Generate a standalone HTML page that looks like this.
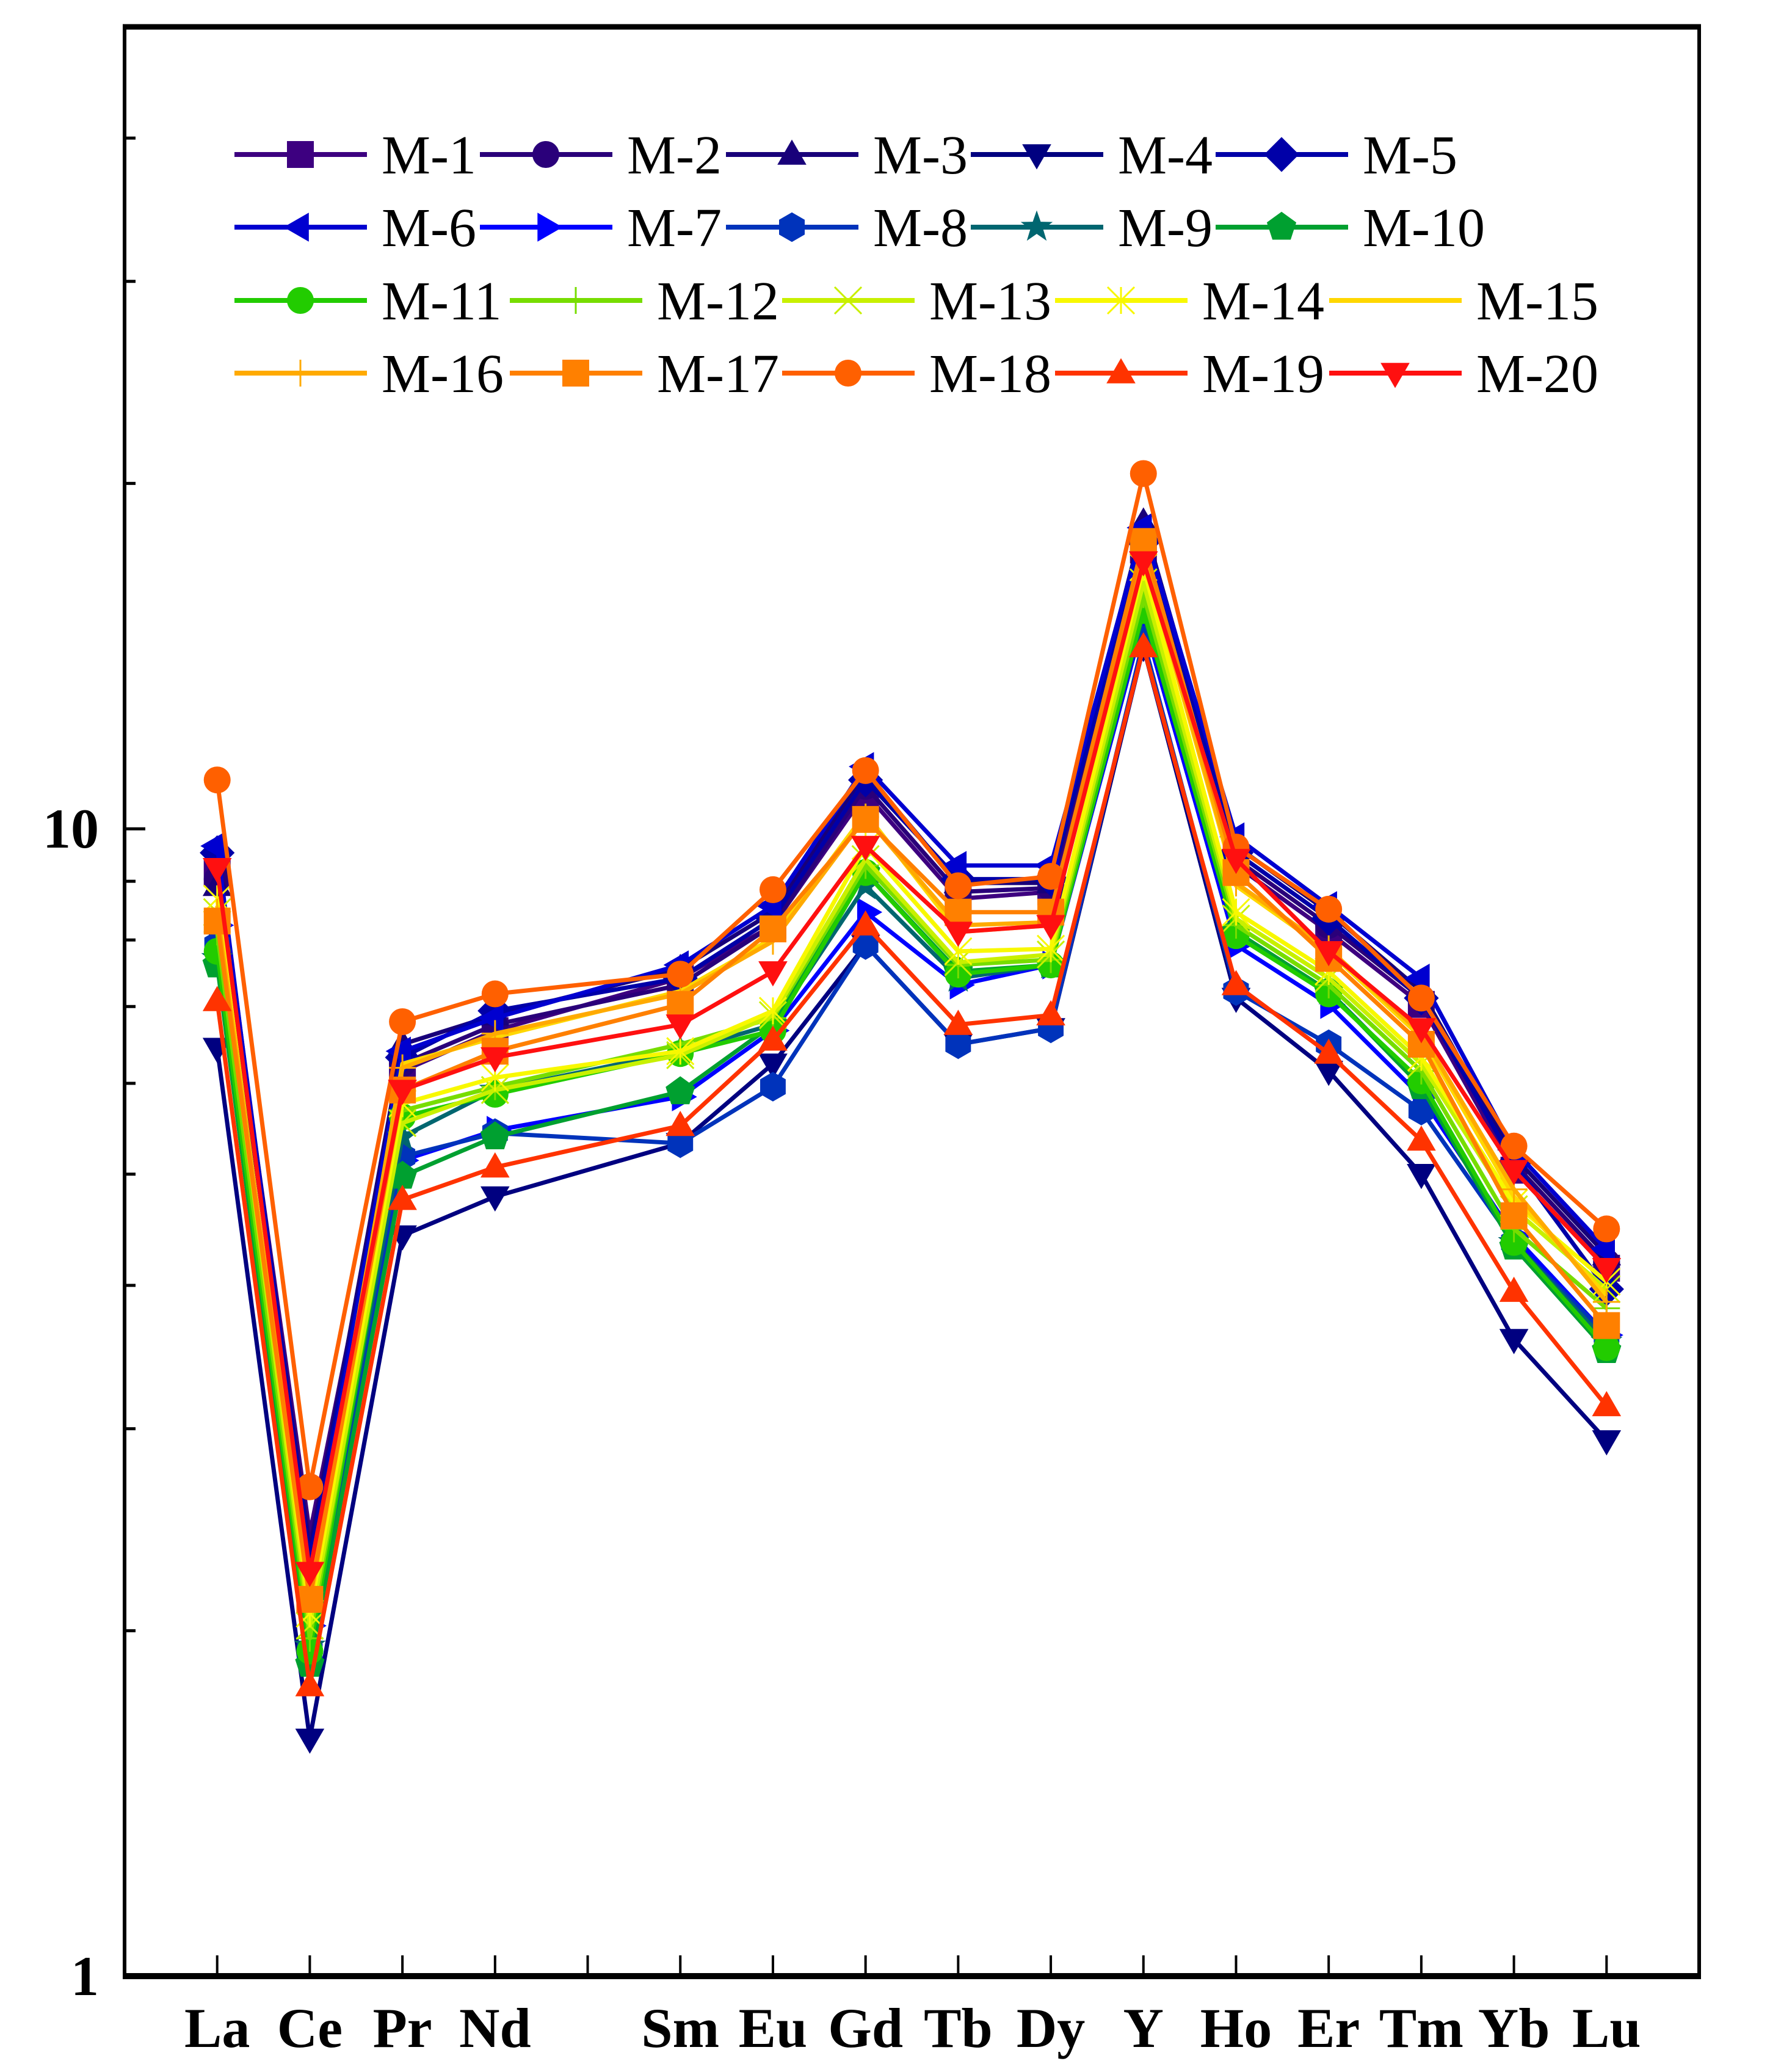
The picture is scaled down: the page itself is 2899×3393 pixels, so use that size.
<!DOCTYPE html>
<html><head><meta charset="utf-8"><style>
html,body{margin:0;padding:0;background:#fff;}
svg{display:block;}
</style></head><body>
<svg id="chart" width="2899" height="3393" viewBox="0 0 2899 3393" xmlns="http://www.w3.org/2000/svg">
<rect x="0" y="0" width="2899" height="3393" fill="#fff"/>
<g id="series-layer"></g>
<g id="axis-layer"></g>
<g id="legend-layer"></g>
</svg>
<script>
const categories = ["La","Ce","Pr","Nd","Sm","Eu","Gd","Tb","Dy","Y","Ho","Er","Tm","Yb","Lu"];
const catPositions = [0,1,2,3,5,6,7,8,9,10,11,12,13,14,15];
const seriesNames = ["M-1","M-2","M-3","M-4","M-5","M-6","M-7","M-8","M-9","M-10","M-11","M-12","M-13","M-14","M-15","M-16","M-17","M-18","M-19","M-20"];
const m1 = [9.16,2.43,6.15,6.67,7.41,8.24,10.74,8.69,8.81,17.5,9.29,8.13,7.03,5.04,4.14];
const m2 = [9.04,2.37,6.24,6.75,7.31,8.24,10.89,8.81,8.88,18.0,9.41,8.24,7.12,5.11,4.19];
const m3 = [8.92,2.34,6.49,6.88,7.55,8.46,11.2,8.97,8.97,18.5,9.66,8.46,7.22,5.18,4.25];
const m4 = [6.44,1.61,4.42,4.78,5.32,6.24,7.92,6.49,6.70,14.4,7.12,6.15,5.00,3.59,2.93];
const m5 = [9.53,2.31,6.32,6.94,7.41,8.35,11.03,9.04,9.04,17.8,9.53,8.35,7.12,5.11,3.97];
const m6 = [9.66,2.22,6.40,6.84,7.61,8.57,11.33,9.29,9.29,18.3,9.84,8.57,7.41,5.25,4.30];
const m7 = [8.24,2.02,5.14,5.46,5.84,6.67,8.46,7.31,7.61,15.2,7.92,7.03,5.84,4.42,3.62];
const m8 = [7.92,1.92,5.18,5.43,5.32,5.96,7.92,6.49,6.70,14.6,7.22,6.49,5.68,4.36,3.62];
const m9 = [7.71,1.94,5.39,5.92,6.40,6.75,8.92,7.41,7.61,15.4,8.13,7.22,5.99,4.36,3.57];
const m10 = [7.61,1.87,4.98,5.39,5.90,6.75,9.16,7.51,7.61,15.6,8.13,7.22,5.96,4.32,3.51];
const m11 = [7.82,1.92,5.61,5.87,6.37,6.67,9.16,7.47,7.61,15.5,8.07,7.18,6.03,4.36,3.53];
const m12 = [8.13,1.97,5.68,5.96,6.49,6.84,9.29,7.61,7.69,16.0,8.24,7.31,6.15,4.48,3.82];
const m13 = [8.46,2.02,5.54,5.92,6.35,6.88,9.41,7.65,7.77,16.4,8.35,7.41,6.24,4.66,3.97];
const m14 = [8.69,2.07,5.76,6.07,6.40,6.94,9.66,7.82,7.86,16.9,8.46,7.51,6.32,4.72,4.03];
const m15 = [8.57,2.10,6.24,6.58,7.22,8.03,10.32,8.13,8.24,17.3,8.92,7.82,6.58,4.78,3.92];
const m16 = [8.46,2.16,6.19,6.63,7.18,7.98,10.24,8.24,8.29,17.4,8.97,7.86,6.63,4.85,3.87];
const m17 = [8.31,2.13,5.92,6.40,7.03,8.18,10.19,8.46,8.46,17.8,9.16,7.71,6.49,4.60,3.69];
const m18 = [11.03,2.67,6.79,7.18,7.47,8.85,11.24,8.92,9.09,20.4,9.64,8.51,7.12,5.29,4.48];
const m19 = [7.08,1.79,4.75,5.07,5.51,6.54,8.24,6.75,6.88,14.4,7.31,6.37,5.35,3.95,3.14];
const m20 = [9.24,2.25,5.92,6.32,6.75,7.51,9.66,8.13,8.24,17.1,9.41,7.82,6.70,5.04,4.14];
const seriesValues = [m1,m2,m3,m4,m5,m6,m7,m8,m9,m10,m11,m12,m13,m14,m15,m16,m17,m18,m19,m20];
const yTickLabels = ["1","10"];
const yTickValues = [1,10];

const colors = ["#3d0080","#2a007a","#18007a","#000080","#0000a8","#0000d0","#0000ff","#0033bb","#006670","#00a030","#22cc00","#77dd00","#c8f000","#f8f800","#ffd700","#ffaa00","#ff8000","#ff6000","#ff3300","#ff1010"];
const markers = ["square","circle","tri-up","tri-down","diamond","tri-left","tri-right","hexagon","star","pentagon","circle","plus","cross","asterisk","none","plus","square","circle","tri-up","tri-down"];

const NS = "http://www.w3.org/2000/svg";
const L = 204, R = 2783, T = 44, B = 3236;
const xMin = -1, xMax = 16, yMin = 0, yMax = Math.log10(50);
function xScale(p){ return L + (p - xMin) / (xMax - xMin) * (R - L); }
function yScale(v){ return B - (Math.log10(v) - yMin) / (yMax - yMin) * (B - T); }
function mk(tag, attrs, parent){ const e = document.createElementNS(NS, tag); for (const k in attrs) e.setAttribute(k, attrs[k]); parent.appendChild(e); return e; }

function polyPts(cx, cy, r, n, rot){ const p=[]; for(let i=0;i<n;i++){ const a=rot+i*2*Math.PI/n; p.push((cx+r*Math.cos(a)).toFixed(1)+","+(cy+r*Math.sin(a)).toFixed(1)); } return p.join(" "); }
function drawMarker(g, type, cx, cy, color){
  const r = 22; let e = null;
  if (type === "square") e = mk("rect",{x:cx-r,y:cy-r,width:2*r,height:2*r,fill:color},g);
  else if (type === "circle") e = mk("circle",{cx:cx,cy:cy,r:r,fill:color},g);
  else if (type === "tri-up") e = mk("polygon",{points:polyPts(cx,cy+3,r*1.25,3,-Math.PI/2),fill:color},g);
  else if (type === "tri-down") e = mk("polygon",{points:polyPts(cx,cy-3,r*1.25,3,Math.PI/2),fill:color},g);
  else if (type === "tri-left") e = mk("polygon",{points:polyPts(cx,cy,r*1.25,3,Math.PI),fill:color},g);
  else if (type === "tri-right") e = mk("polygon",{points:polyPts(cx,cy,r*1.25,3,0),fill:color},g);
  else if (type === "diamond") e = mk("polygon",{points:polyPts(cx,cy,r*1.3,4,-Math.PI/2),fill:color},g);
  else if (type === "hexagon") e = mk("polygon",{points:polyPts(cx,cy,r*1.1,6,Math.PI/2),fill:color},g);
  else if (type === "pentagon") e = mk("polygon",{points:polyPts(cx,cy,r*1.15,5,-Math.PI/2),fill:color},g);
  else if (type === "star") { const p=[]; for(let i=0;i<10;i++){ const a=-Math.PI/2+i*Math.PI/5; const rr=i%2?r*0.5:r*1.25; p.push((cx+rr*Math.cos(a)).toFixed(1)+","+(cy+rr*Math.sin(a)).toFixed(1)); } e = mk("polygon",{points:p.join(" "),fill:color},g); }
  else if (type === "plus") e = mk("path",{d:`M${cx-r} ${cy}H${cx+r}M${cx} ${cy-r}V${cy+r}`,stroke:color,"stroke-width":3,fill:"none"},g);
  else if (type === "cross") e = mk("path",{d:`M${cx-r} ${cy-r}L${cx+r} ${cy+r}M${cx-r} ${cy+r}L${cx+r} ${cy-r}`,stroke:color,"stroke-width":3,fill:"none"},g);
  else if (type === "asterisk") e = mk("path",{d:`M${cx-r} ${cy-r}L${cx+r} ${cy+r}M${cx-r} ${cy+r}L${cx+r} ${cy-r}M${cx} ${cy-r}V${cy+r}`,stroke:color,"stroke-width":3,fill:"none"},g);
  return e;
}

const sLayer = document.getElementById("series-layer");
seriesValues.forEach((vals, si) => {
  const g = mk("g", {}, sLayer);
  
  
  const pts = vals.map((v, i) => xScale(catPositions[i]).toFixed(1) + "," + yScale(v).toFixed(1)).join(" ");
  const line = mk("polyline", {points: pts, fill: "none", stroke: colors[si], "stroke-width": 7, "stroke-linejoin": "round"}, g);
  
  
  vals.forEach((v, i) => {
    const m = drawMarker(g, markers[si], xScale(catPositions[i]), yScale(v), colors[si]);
    if (m) {
      
      
    }
  });
});

const aLayer = document.getElementById("axis-layer");
const frameL = mk("line",{x1:L,y1:T-4,x2:L,y2:B+5,stroke:"#000","stroke-width":6},aLayer);
 
const frameR = mk("line",{x1:R,y1:T-4,x2:R,y2:B+5,stroke:"#000","stroke-width":6},aLayer);
 
const frameT = mk("line",{x1:L-3,y1:T,x2:R+3,y2:T,stroke:"#000","stroke-width":9},aLayer);
 
const frameB = mk("line",{x1:L-3,y1:B,x2:R+3,y2:B,stroke:"#000","stroke-width":10},aLayer);
 

for (let p = 0; p <= 15; p++) {
  const t = mk("line",{x1:xScale(p),y1:B,x2:xScale(p),y2:B-34,stroke:"#000","stroke-width":4},aLayer);
   
}
categories.forEach((c, i) => {
  const t = mk("text",{x:xScale(catPositions[i]),y:3352,"text-anchor":"middle","font-family":"'Liberation Serif', serif","font-weight":"bold","font-size":92},aLayer);
  t.textContent = c;
   
});
[2,3,4,5,6,7,8,9,20,30,40].forEach(v => {
  const t = mk("line",{x1:L,y1:yScale(v),x2:L+18,y2:yScale(v),stroke:"#000","stroke-width":5},aLayer);
   
});
yTickValues.forEach((v, i) => {
  const t = mk("line",{x1:L,y1:yScale(v),x2:L+34,y2:yScale(v),stroke:"#000","stroke-width":5},aLayer);
   
  const lb = mk("text",{x:162,y:yScale(v)+31,"text-anchor":"end","font-family":"'Liberation Serif', serif","font-weight":"bold","font-size":92},aLayer);
  lb.textContent = yTickLabels[i];
   
});

const lg = document.getElementById("legend-layer");
const rowY = [253,372,492,611];
const colX12 = [384,786,1189,1590,1991];
const colX34 = [384,835,1281,1728,2177];
seriesNames.forEach((n, si) => {
  const row = Math.floor(si / 5), col = si % 5;
  const x0 = row < 2 ? colX12[col] : colX34[col];
  const y0 = rowY[row];
  const g = mk("g", {}, lg);
  
  
  mk("line",{x1:x0,y1:y0,x2:x0+217,y2:y0,stroke:colors[si],"stroke-width":8},g);
  drawMarker(g, markers[si], x0+108, y0, colors[si]);
  const t = mk("text",{x:x0+241,y:y0+31,"font-family":"'Liberation Serif', serif","font-size":90},g);
  t.textContent = n;
});
</script>
</body></html>
